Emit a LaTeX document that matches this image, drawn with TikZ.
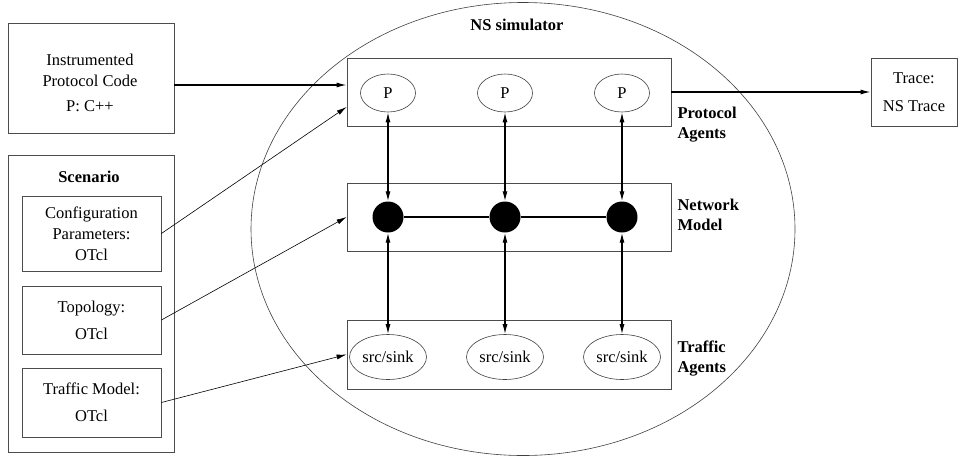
\documentclass[tikz,border=0pt]{standalone}
\usepackage{fontspec}
\setmainfont{Liberation Serif}
\usetikzlibrary{arrows.meta}
\usetikzlibrary{shapes.geometric}

\tikzset{
	txt/.style={font=\fontsize{16.5}{21}\selectfont},
	bold/.style={font=\fontsize{16.5}{20}\selectfont\bfseries},
	box/.style={draw=black!70, line width=0.8pt, rectangle, inner sep=0pt, align=center, txt},
	pnode/.style={draw=black!75, line width=0.6pt, ellipse, inner sep=0pt, minimum width=55, minimum height=38, txt},
	sink/.style={draw=black!75, line width=0.6pt, ellipse, inner sep=0pt, minimum width=77, minimum height=45, txt},
	hub/.style={circle, fill=black, inner sep=0pt, minimum size=31},
	link/.style={line width=1.2pt},
	feed/.style={line width=0.6pt, -{Latex[length=10pt,width=5pt]}}
}

\begin{document}
\begin{tikzpicture}[x=1pt,y=-1pt, >={Latex[length=10pt,width=5pt]}]
	\useasboundingbox (0,0) rectangle (958,461);

	% simulator
	\node[ellipse, draw=black!75, line width=0.6pt, inner sep=0pt, minimum width=544, minimum height=453] (sim) at (523,229) {};
	\node[bold] (simname) at (517,25) {NS simulator};

	\node[box, minimum width=324, minimum height=68] (protobox) at (509,92) {};
	\node[box, minimum width=324, minimum height=68] (netbox) at (509,217) {};
	\node[box, minimum width=324, minimum height=69] (trafbox) at (509,354.5) {};

	\node[bold, anchor=west, align=left] (protoname) at (674,125) {Protocol\\Agents};
	\node[bold, anchor=west, align=left] (netname) at (674,215) {Network\\Model};
	\node[bold, anchor=west, align=left] (trafname) at (674,359) {Traffic\\Agents};

	\foreach \i/\x in {1/388,2/505,3/622} {
		\node[pnode] (p\i) at (\x,93) {P};
		\node[hub] (n\i) at (\x,217) {};
		\node[sink] (s\i) at (\x,357) {src/sink};
		\draw[link,<->] (p\i) -- (n\i);
		\draw[link,<->] (n\i) -- (s\i);
	}
	\draw[link] (n1) -- (n2) -- (n3);

	% inputs
	\node[box, minimum width=166, minimum height=110] (code) at (91,78) {};
	\node[txt, align=center] (codetxt) at (90,83) {Instrumented\\Protocol Code\\[4pt]P: C++};

	\node[box, minimum width=166, minimum height=297] (scen) at (91,303.5) {};
	\node[bold] (scenname) at (89,177) {Scenario};
	\node[box, minimum width=139, minimum height=75] (cfg) at (91.5,233.5) {Configuration\\Parameters:\\OTcl};
	\node[box, minimum width=139, minimum height=68] (topo) at (91.5,320) {Topology:\\[6pt]OTcl};
	\node[box, minimum width=139, minimum height=69] (tmod) at (91.5,402.5) {Traffic Model:\\[6pt]OTcl};

	% output
	\node[box, minimum width=86, minimum height=68] (trace) at (914,92) {Trace:\\[7pt]NS Trace};

	\draw[link,->] ([yshift=-7pt]code.east) -- ([yshift=7pt]protobox.west);
	\draw[link,->] (protobox.east) -- (trace.west);
	\draw[feed] (cfg.east) -- ([yshift=-15pt]protobox.west);
	\draw[feed] (topo.east) -- (netbox.west);
	\draw[feed] (tmod.east) -- (trafbox.west);
\end{tikzpicture}
\end{document}
